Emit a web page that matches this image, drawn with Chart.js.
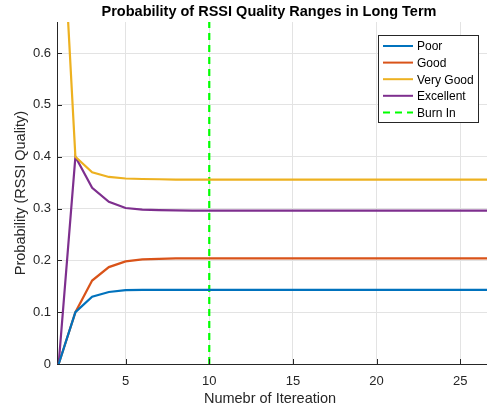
<!DOCTYPE html>
<html>
<head>
<meta charset="utf-8">
<script src="https://cdn.jsdelivr.net/npm/chart.js@4"></script>
<style>
  html, body { margin: 0; padding: 0; background: #fff; }
  #wrap { width: 487px; height: 413px; }
</style>
</head>
<body>
<div id="wrap"><canvas id="chart" width="487" height="413"></canvas></div>
<script>
// values
const iterations = [1,2,3,4,5,6,7,8,9,10,11,12,13,14,15,16,17,18,19,20,21,22,23,24,25,26,27];
const poor = [0, 0.1, 0.130, 0.139, 0.1425, 0.143, 0.143, 0.143, 0.143, 0.143, 0.143, 0.143, 0.143, 0.143,
  0.143, 0.143, 0.143, 0.143, 0.143, 0.143, 0.143, 0.143, 0.143, 0.143, 0.143, 0.143, 0.143];
const good = [0, 0.1, 0.161, 0.187, 0.198, 0.202, 0.203, 0.204, 0.204, 0.204, 0.204, 0.204, 0.204, 0.204,
  0.204, 0.204, 0.204, 0.204, 0.204, 0.204, 0.204, 0.204, 0.204, 0.204, 0.204, 0.204, 0.204];
const veryGood = [1.0, 0.40, 0.370, 0.361, 0.358, 0.357, 0.3565, 0.356, 0.356, 0.356, 0.356, 0.356, 0.356, 0.356,
  0.356, 0.356, 0.356, 0.356, 0.356, 0.356, 0.356, 0.356, 0.356, 0.356, 0.356, 0.356, 0.356];
const excellent = [0, 0.40, 0.340, 0.313, 0.301, 0.298, 0.297, 0.2965, 0.296, 0.296, 0.296, 0.296, 0.296, 0.296,
  0.296, 0.296, 0.296, 0.296, 0.296, 0.296, 0.296, 0.296, 0.296, 0.296, 0.296, 0.296, 0.296];
const burnIn = 10;
const xTicks = [5, 10, 15, 20, 25];
const yTicks = [0, 0.1, 0.2, 0.3, 0.4, 0.5, 0.6];
const xRange = [0.9, 26.6];
const yRange = [0, 0.66];

const FONT = '"Liberation Sans", Arial, Helvetica, sans-serif';
const AXIS = '#262626';

function pts(vals){
  return vals.map((v, i) => ({x: iterations[i], y: v}));
}

const extras = {
  id: 'extras',
  afterDraw(chart){
    const ctx = chart.ctx;
    const a = chart.chartArea;
    const xs = chart.scales.x, ys = chart.scales.y;
    ctx.save();
    // inward tick marks
    ctx.strokeStyle = AXIS;
    ctx.lineWidth = 1;
    ctx.beginPath();
    xTicks.forEach(t => {
      const px = Math.round(xs.getPixelForValue(t)) + 0.5;
      ctx.moveTo(px, a.bottom); ctx.lineTo(px, a.bottom - 5);
    });
    yTicks.forEach(t => {
      const py = Math.round(ys.getPixelForValue(t)) + 0.5;
      ctx.moveTo(a.left, py); ctx.lineTo(a.left + 5, py);
    });
    ctx.stroke();

    // texts
    ctx.fillStyle = '#000';
    ctx.textAlign = 'center';
    ctx.textBaseline = 'middle';
    ctx.font = 'bold 14.5px ' + FONT;
    ctx.fillText('Probability of RSSI Quality Ranges in Long Term', 269, 12);
    ctx.fillStyle = AXIS;
    ctx.font = '14.5px ' + FONT;
    ctx.fillText('Numebr of Itereation', 270, 399);
    ctx.translate(21, (a.top + a.bottom) / 2);
    ctx.rotate(-Math.PI / 2);
    ctx.fillText('Probability (RSSI Quality)', 0, 0);
    ctx.restore();

    // legend
    ctx.save();
    const lx = 378, ly = 35, lw = 100, lh = 87;
    ctx.fillStyle = '#fff';
    ctx.fillRect(lx, ly, lw, lh);
    ctx.strokeStyle = AXIS;
    ctx.lineWidth = 1;
    ctx.strokeRect(lx + 0.5, ly + 0.5, lw, lh);
    ctx.font = '12px ' + FONT;
    ctx.textAlign = 'left';
    ctx.textBaseline = 'middle';
    chart.data.datasets.forEach((ds, i) => {
      const y = ly + 11 + i * 16.6;
      ctx.strokeStyle = ds.borderColor;
      ctx.lineWidth = 2;
      ctx.setLineDash(ds.borderDash || []);
      ctx.beginPath();
      ctx.moveTo(lx + 5, y); ctx.lineTo(lx + 35, y);
      ctx.stroke();
      ctx.setLineDash([]);
      ctx.fillStyle = '#000';
      ctx.fillText(ds.label, lx + 39, y + 1);
    });
    ctx.restore();
  }
};

new Chart(document.getElementById('chart'), {
  type: 'line',
  data: {
    datasets: [
      {label: 'Poor', data: pts(poor), borderColor: '#0072BD'},
      {label: 'Good', data: pts(good), borderColor: '#D95319'},
      {label: 'Very Good', data: pts(veryGood), borderColor: '#EDB120'},
      {label: 'Excellent', data: pts(excellent), borderColor: '#7E2F8E'},
      {label: 'Burn In', data: [{x: burnIn, y: yRange[0]}, {x: burnIn, y: yRange[1]}],
        borderColor: '#00FF00', borderDash: [7, 5]}
    ].map(d => Object.assign({borderWidth: 2.2, pointRadius: 0, fill: false, tension: 0}, d))
  },
  options: {
    responsive: false,
    animation: false,
    layout: {padding: {top: 22, right: 0, bottom: 0, left: 0}},
    plugins: {legend: {display: false}, title: {display: false}, tooltip: {enabled: false}},
    scales: {
      x: {
        type: 'linear',
        min: xRange[0], max: xRange[1],
        afterBuildTicks: s => { s.ticks = xTicks.map(v => ({value: v})); },
        afterFit: s => { s.height = 49; s.paddingLeft = 0; s.paddingRight = 0; },
        grid: {color: '#e3e3e3', drawTicks: false},
        border: {color: AXIS, width: 1},
        ticks: {padding: 10, color: AXIS, font: {family: FONT, size: 13}, maxRotation: 0}
      },
      y: {
        min: yRange[0], max: yRange[1],
        afterBuildTicks: s => { s.ticks = yTicks.map(v => ({value: v})); },
        afterFit: s => { s.width = 57; },
        grid: {color: '#e3e3e3', drawTicks: false},
        border: {color: AXIS, width: 1},
        ticks: {padding: 6, color: AXIS, font: {family: FONT, size: 13},
          callback: v => String(Math.round(v * 10) / 10)}
      }
    }
  },
  plugins: [extras]
});
</script>
</body>
</html>
